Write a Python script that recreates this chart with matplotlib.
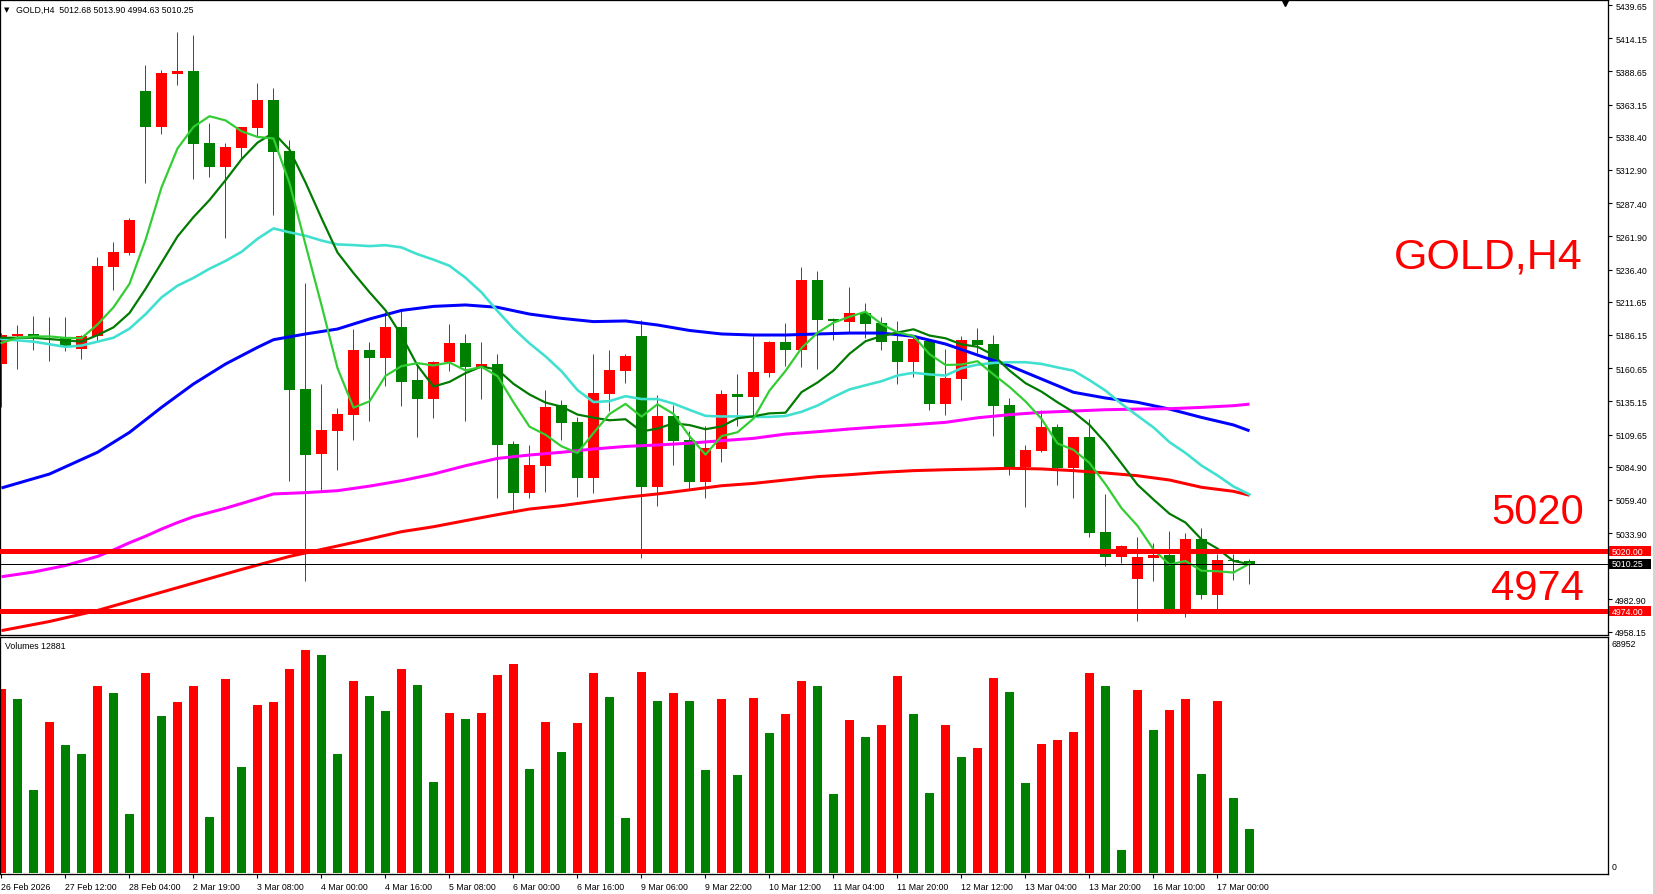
import numpy as np
import matplotlib
matplotlib.use("Agg")
import matplotlib.pyplot as plt
from matplotlib.patches import Rectangle
from matplotlib.lines import Line2D
from matplotlib.transforms import blended_transform_factory

plt.rcParams['font.family'] = ['Liberation Sans', 'DejaVu Sans']

# ---------------- data ----------------
opens = [5163.8, 5185.1, 5186.9, 5185.1, 5183.5, 5175.4, 5185.1, 5238.4, 5249.1, 5373.6,
         5346.2, 5386.6, 5388.7, 5333.6, 5315.4, 5330.0, 5345.4, 5366.7, 5327.5, 5144.6,
         5094.7, 5112.6, 5124.9, 5174.6, 5168.2, 5192.3, 5151.5, 5137.2, 5165.6, 5180.0,
         5161.3, 5163.8, 5102.1, 5065.0, 5085.7, 5132.3, 5119.3, 5076.5, 5140.8, 5158.7,
         5185.3, 5069.6, 5123.9, 5105.4, 5073.4, 5098.5, 5140.8, 5138.7, 5157.2, 5180.7,
         5174.8, 5228.4, 5198.4, 5196.1, 5203.0, 5195.3, 5181.5, 5165.4, 5181.5, 5133.1,
         5152.3, 5182.3, 5179.2, 5132.3, 5084.9, 5097.2, 5115.4, 5083.9, 5107.7, 5034.8,
         5015.8, 4998.9, 5015.0, 5017.3, 4975.8, 5029.6, 4986.6, 5013.5, 5012.68]
highs = [5188.0, 5193.8, 5201.0, 5199.7, 5200.2, 5186.0, 5246.0, 5257.8, 5276.0, 5393.8,
         5389.7, 5418.9, 5416.6, 5349.0, 5333.6, 5346.0, 5379.7, 5375.9, 5335.7, 5226.0,
         5148.5, 5130.0, 5190.7, 5181.0, 5203.5, 5204.6, 5162.5, 5166.4, 5194.6, 5186.9,
         5180.7, 5171.5, 5104.7, 5101.6, 5143.9, 5136.2, 5123.1, 5171.5, 5174.6, 5171.5,
         5197.6, 5140.0, 5132.3, 5112.3, 5116.4, 5143.9, 5156.1, 5185.1, 5181.5, 5195.3,
         5238.4, 5235.3, 5199.2, 5223.0, 5210.7, 5200.0, 5196.9, 5185.0, 5183.0, 5175.4,
         5185.6, 5191.5, 5186.1, 5137.7, 5101.6, 5128.5, 5117.7, 5108.0, 5121.6, 5063.9,
         5024.8, 5031.2, 5026.6, 5035.8, 5034.2, 5038.1, 5018.1, 5018.1, 5013.90]
lows = [5130.5, 5160.0, 5174.6, 5166.4, 5174.0, 5167.7, 5181.8, 5220.9, 5247.6, 5303.1,
        5340.5, 5378.4, 5306.2, 5307.8, 5260.9, 5321.8, 5338.0, 5278.6, 5074.2, 4997.0,
        5065.2, 5082.6, 5105.7, 5120.3, 5147.2, 5131.3, 5108.0, 5122.6, 5158.7, 5120.3,
        5137.2, 5061.1, 5050.9, 5061.1, 5065.7, 5105.4, 5061.9, 5065.0, 5128.0, 5149.5,
        5014.5, 5055.0, 5086.5, 5067.8, 5060.6, 5088.8, 5116.4, 5124.6, 5154.1, 5162.5,
        5161.5, 5160.2, 5182.5, 5188.2, 5183.5, 5174.6, 5148.5, 5154.1, 5128.7, 5124.9,
        5136.4, 5172.5, 5108.8, 5078.8, 5054.2, 5096.0, 5071.1, 5061.1, 5031.2, 5008.9,
        5011.2, 4966.6, 4997.4, 4975.0, 4969.7, 4983.5, 4975.8, 4998.1, 4994.63]
closes = [5186.1, 5186.9, 5184.3, 5184.3, 5177.9, 5185.1, 5239.4, 5250.1, 5274.5, 5346.2,
          5387.4, 5388.7, 5333.1, 5315.4, 5330.5, 5345.9, 5366.7, 5326.9, 5144.1, 5094.2,
          5113.1, 5125.4, 5174.6, 5168.2, 5192.3, 5150.3, 5137.2, 5165.4, 5180.0, 5161.8,
          5163.6, 5101.8, 5065.0, 5086.2, 5131.1, 5118.8, 5076.5, 5141.6, 5159.2, 5170.0,
          5069.6, 5123.9, 5104.9, 5073.4, 5099.0, 5140.8, 5138.7, 5157.7, 5180.7, 5174.8,
          5228.4, 5197.6, 5196.6, 5203.0, 5194.6, 5180.7, 5165.4, 5183.0, 5133.1, 5153.1,
          5182.3, 5178.7, 5131.8, 5084.9, 5097.8, 5115.4, 5083.9, 5107.7, 5034.2, 5015.8,
          5024.0, 5015.8, 5017.3, 4975.8, 5029.6, 4986.6, 5013.5, 5012.7, 5010.25]

volumes = [54217, 51271, 24457, 44494, 37716, 35065, 55101, 53039, 17385, 58932,
           46262, 50387, 55101, 16501, 57164, 31234, 49503, 50387, 60111, 65709,
           64236, 35065, 56575, 52155, 47735, 60111, 55396, 26814, 47146, 45378,
           47146, 58343, 61584, 30645, 44494, 35654, 44199, 58932, 51860, 16206,
           59227, 50682, 53039, 50682, 30350, 51271, 28877, 51566, 41252, 46851,
           56575, 55101, 23278, 45083, 40074, 43610, 58048, 46851, 23573, 43610,
           34181, 36833, 57459, 53333, 26519, 38011, 39190, 41547, 58932, 55101,
           6777, 53923, 42136, 48030, 51271, 29171, 50682, 22100, 12881]

ma_fast = [5180, 5184, 5185, 5185, 5183.9, 5183.7, 5194.2, 5207.4, 5225.4, 5259.1,
           5299.5, 5329.4, 5346.0, 5354.2, 5351.0, 5342.7, 5338.3, 5337.1, 5302.8, 5255.6,
           5209.0, 5160.7, 5130.3, 5135.1, 5154.7, 5162.2, 5164.5, 5162.7, 5165.0, 5158.9,
           5161.6, 5154.5, 5134.4, 5115.7, 5109.5, 5100.6, 5095.5, 5110.8, 5125.4, 5133.2,
           5123.4, 5132.9, 5125.5, 5108.4, 5094.2, 5108.4, 5111.4, 5121.9, 5143.4, 5158.5,
           5176.1, 5187.8, 5195.6, 5200.1, 5204.0, 5194.5, 5188.1, 5185.3, 5171.4, 5163.1,
           5163.4, 5166.0, 5155.8, 5146.2, 5135.1, 5121.7, 5102.8, 5097.9, 5087.8, 5071.4,
           5053.1, 5039.5, 5021.4, 5009.7, 5012.5, 5005.0, 5004.6, 5003.6, 5010.5]
ma_mid = [5184, 5184, 5184, 5183, 5182, 5181, 5186, 5192, 5203, 5221.5,
          5241.6, 5261.8, 5276.7, 5289.8, 5305.0, 5321.1, 5333.9, 5341.5, 5328.5, 5303.3,
          5275.9, 5249.5, 5233.7, 5219.0, 5205.1, 5185.6, 5162.6, 5146.5, 5150.1, 5156.8,
          5161.9, 5159.5, 5148.6, 5140.4, 5134.2, 5131.1, 5125.0, 5122.6, 5120.6, 5121.4,
          5112.0, 5114.2, 5118.2, 5116.9, 5113.7, 5115.9, 5122.1, 5123.7, 5125.9, 5126.4,
          5142.2, 5149.6, 5158.8, 5171.7, 5181.3, 5185.3, 5188.0, 5190.5, 5185.7, 5183.6,
          5178.9, 5177.1, 5170.6, 5158.8, 5149.1, 5142.6, 5134.4, 5126.9, 5117.0, 5103.3,
          5087.4, 5071.1, 5059.7, 5048.8, 5042.0, 5029.1, 5022.0, 5012.5, 5010.1]
ma_slow = [5183, 5182, 5181, 5179, 5177, 5178, 5181, 5184, 5191, 5202,
           5215, 5224, 5230, 5237, 5243, 5250, 5260, 5268, 5265, 5262.4,
           5258.7, 5255.7, 5255.2, 5254.4, 5255.1, 5253.4, 5248.2, 5244.0, 5239.3, 5230.1,
           5218.9, 5204.5, 5191.1, 5179.7, 5169.7, 5158.3, 5143.8, 5134.6, 5135.3, 5139.1,
           5136.9, 5136.9, 5133.4, 5128.6, 5124.0, 5123.5, 5123.6, 5123.2, 5123.2, 5123.9,
           5127.1, 5131.9, 5138.5, 5144.3, 5147.5, 5150.6, 5155.0, 5157.1, 5155.8, 5155.0,
           5160.6, 5163.3, 5164.7, 5165.2, 5165.2, 5163.9, 5161.2, 5158.7, 5151.4, 5143.4,
           5133.2, 5124.1, 5115.1, 5103.8, 5095.5, 5085.8, 5078.2, 5069.7, 5063.6]

blue_idx = [0, 3, 6, 8, 10, 12, 14, 16, 17, 19, 21, 23, 25, 27, 29, 31, 33, 35, 37, 39, 41, 43,
            45, 47, 49, 51, 53, 55, 57, 59, 61, 63, 65, 67, 69, 71, 73, 75, 77, 78]
blue_val = [5068.6, 5079.3, 5096.0, 5111.3, 5130.5, 5148.5, 5163.8, 5176.6, 5182.5, 5186.9,
            5190.7, 5198.4, 5205.0, 5208.1, 5209.2, 5207.4, 5202.2, 5198.9, 5196.4, 5196.9,
            5193.8, 5189.6, 5186.9, 5186.1, 5186.1, 5186.9, 5187.6, 5187.6, 5185.1, 5179.2,
            5170.7, 5162.5, 5152.3, 5142.1, 5137.7, 5134.4, 5129.2, 5122.8, 5117.0, 5112.5]

mag_idx = [0, 2, 4, 6, 7, 8, 9, 10, 11, 12, 14, 17, 19, 21, 23, 25, 27, 29, 31, 33, 35, 37, 39, 41,
           43, 45, 47, 49, 51, 53, 55, 57, 59, 61, 63, 65, 67, 69, 71, 73, 75, 77, 78]
mag_val = [5000.4, 5004.0, 5009.0, 5016.0, 5021.0, 5026.5, 5031.5, 5037.0, 5042.0, 5046.5,
           5053.0, 5064.0, 5065.0, 5066.5, 5070.0, 5074.2, 5079.3, 5085.7, 5091.3, 5093.9,
           5096.0, 5098.5, 5100.5, 5101.6, 5103.0, 5104.9, 5106.7, 5110.0, 5111.8, 5113.9,
           5115.7, 5117.2, 5119.0, 5122.5, 5124.9, 5126.7, 5127.7, 5128.7, 5129.2, 5129.5,
           5130.5, 5131.8, 5133.0]

red_idx = [0, 3, 6, 9, 12, 15, 18, 21, 23, 25, 27, 29, 31, 33, 35, 37, 39, 41, 43, 45, 47,
           49, 51, 53, 55, 57, 59, 61, 63, 65, 67, 69, 71, 73, 75, 77, 78]
red_val = [4959.0, 4966.0, 4974.5, 4985.0, 4995.5, 5006.0, 5016.0, 5024.0, 5029.4, 5035.0,
           5038.8, 5043.5, 5048.1, 5052.4, 5055.0, 5058.3, 5061.4, 5064.0, 5067.1, 5070.3,
           5072.1, 5074.7, 5077.3, 5078.8, 5080.6, 5081.9, 5082.6, 5083.1, 5083.7, 5083.2,
           5081.9, 5080.1, 5078.0, 5074.7, 5069.1, 5066.0, 5063.0]

time_labels = ["26 Feb 2026", "27 Feb 12:00", "28 Feb 04:00", "2 Mar 19:00", "3 Mar 08:00",
               "4 Mar 00:00", "4 Mar 16:00", "5 Mar 08:00", "6 Mar 00:00", "6 Mar 16:00",
               "9 Mar 06:00", "9 Mar 22:00", "10 Mar 12:00", "11 Mar 04:00", "11 Mar 20:00",
               "12 Mar 12:00", "13 Mar 04:00", "13 Mar 20:00", "16 Mar 10:00", "17 Mar 00:00"]
time_label_idx = list(range(0, 80, 4))

price_ticks = [5439.65, 5414.15, 5388.65, 5363.15, 5338.40, 5312.90, 5287.40, 5261.90,
               5236.40, 5211.65, 5186.15, 5160.65, 5135.15, 5109.65, 5084.90, 5059.40,
               5033.90, 4982.90, 4958.15]
level_hi = 5020.00
level_lo = 4974.00
last_price = 5010.25
vol_max_label = 68952
header = "GOLD,H4  5012.68 5013.90 4994.63 5010.25"

# ---------------- layout ----------------
W, H = 1656, 895
PX = 0.72  # points per pixel at dpi 100
fig = plt.figure(figsize=(W / 100, H / 100), dpi=100)
fig.patch.set_facecolor('white')

RED = '#FF0000'
GREEN = '#008000'
FS = 6.3

n = len(closes)
x = np.arange(n)
xlim = (-1.5 / 16, -1.5 / 16 + 1608 / 16)

ax = fig.add_axes([0, 1 - 636 / H, 1608 / W, 635 / H])
k = 0.7683
ax.set_ylim(5439.65 - 630 * k, 5439.65 + 5 * k)
ax.set_xlim(*xlim)

o = np.array(opens); c = np.array(closes); hi = np.array(highs); lo = np.array(lows)
up = c > o
ccol = np.where(up, RED, GREEN)
ax.vlines(x, lo, hi, colors=ccol, lw=1.0 * PX, zorder=2)
body_bot = np.minimum(o, c)
body_h = np.maximum(np.abs(c - o), 0.9)
ax.bar(x, body_h, bottom=body_bot, width=11 / 16, color=ccol, lw=0, zorder=2)

ax.plot(blue_idx, blue_val, color='#0000FF', lw=3 * PX, zorder=3, solid_capstyle='butt')
ax.plot(mag_idx, mag_val, color='#FF00FF', lw=3 * PX, zorder=3, solid_capstyle='butt')
ax.plot(red_idx, red_val, color='#FF0000', lw=3 * PX, zorder=3, solid_capstyle='butt')
ax.plot(np.arange(len(ma_slow)), ma_slow, color='#40E0D0', lw=2.6 * PX, zorder=3)
ax.plot(np.arange(len(ma_mid)), ma_mid, color='#007A00', lw=2.2 * PX, zorder=3)
ax.plot(np.arange(len(ma_fast)), ma_fast, color='#32CD32', lw=2.2 * PX, zorder=3)

ax.axhline(level_hi, color=RED, lw=5 * PX, zorder=4)
ax.axhline(level_lo, color=RED, lw=5 * PX, zorder=4)
ax.axhline(last_price, color='black', lw=1 * PX, zorder=4)

for s in ax.spines.values():
    s.set_color('black'); s.set_linewidth(1.3 * PX)
ax.set_xticks([])
ax.yaxis.tick_right()
ax.set_yticks(price_ticks)
ax.set_yticklabels([f'{v:.2f}' for v in price_ticks])
ax.tick_params(axis='y', right=True, left=False, labelright=True, labelleft=False,
               length=3, width=0.8, pad=2.2, labelsize=FS, colors='black', direction='out')

tr = blended_transform_factory(fig.transFigure, ax.transData)
for val, col in [(level_hi, RED), (last_price, 'black'), (level_lo, RED)]:
    fig.add_artist(Rectangle((1609 / W, val - 5 * k), 42 / W, 10 * k, transform=tr,
                             facecolor=col, edgecolor='none', zorder=10))
    fig.text(1612 / W, val, f'{val:.2f}', transform=tr, color='white', fontsize=FS,
             ha='left', va='center', zorder=11)

# big annotations
fig.text(1583 / W, 1 - 257 / H, 'GOLD,H4', ha='right', va='center', fontsize=31, color=RED)
fig.text(1584 / W, 1 - 513 / H, f'{level_hi:.0f}', ha='right', va='center', fontsize=30, color=RED)
fig.text(1584 / W, 1 - 589 / H, f'{level_lo:.0f}', ha='right', va='center', fontsize=30, color=RED)

# header
fig.text(4 / W, 1 - 10 / H, '▼', fontsize=5, ha='left', va='center', color='black',
         family=['DejaVu Sans'])
fig.text(16 / W, 1 - 10 / H, header, fontsize=FS, ha='left', va='center', color='black')
fig.add_artist(Line2D([1285 / W], [1 - 4 / H], marker='v', markersize=5, color='black',
                      transform=fig.transFigure))

# ---------------- volume panel ----------------
vax = fig.add_axes([0, 1 - 875 / H, 1608 / W, (875 - 638) / H])
vax.set_xlim(*xlim)
vax.set_ylim(-295, 69541)
v = np.array(volumes)
vcol = [RED] + [RED if v[i] > v[i - 1] else GREEN for i in range(1, n)]
vax.bar(x, v, width=9 / 16, color=vcol, lw=0)
for s in vax.spines.values():
    s.set_color('black'); s.set_linewidth(1.3 * PX)
vax.set_yticks([])
vax.set_xticks(time_label_idx)
vax.set_xticklabels(time_labels, ha='left', fontsize=FS)
vax.tick_params(axis='x', length=3, width=0.8, pad=3, direction='out', colors='black')
fig.text(5 / W, 1 - 647 / H, f'Volumes {volumes[-1]}', fontsize=FS, ha='left', va='center')
fig.text(1612 / W, 1 - 645 / H, f'{vol_max_label}', fontsize=FS, ha='left', va='center')
fig.text(1612 / W, 1 - 868 / H, '0', fontsize=FS, ha='left', va='center')

fig.add_artist(Line2D([1654 / W, 1654 / W], [0, 1], color='#D4D4D4', lw=2 * PX,
                      transform=fig.transFigure))

fig.savefig('out.png', dpi=100)
